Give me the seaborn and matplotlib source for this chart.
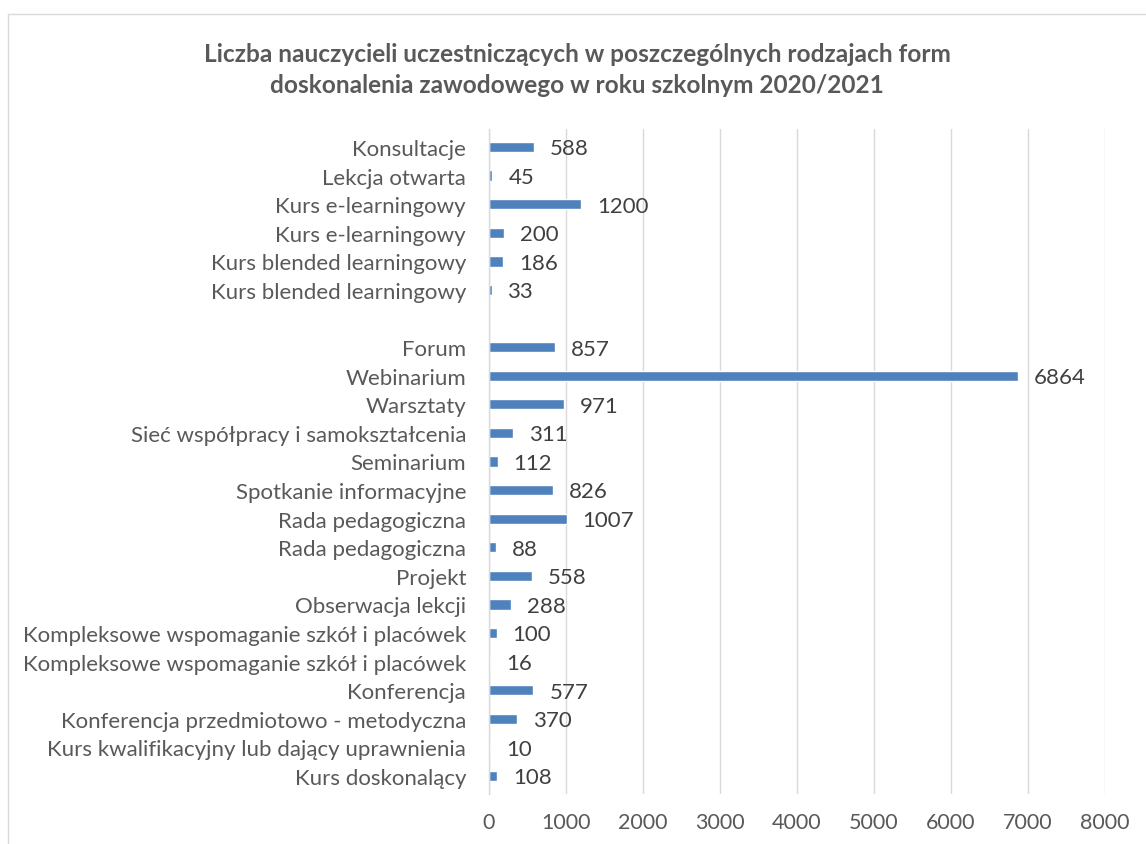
import matplotlib
matplotlib.use("Agg")
import matplotlib.pyplot as plt
import seaborn as sns
import pandas as pd
import numpy as np

categories = [
    "Konsultacje", "Lekcja otwarta", "Kurs e-learningowy", "Kurs e-learningowy",
    "Kurs blended learningowy", "Kurs blended learningowy", "",
    "Forum", "Webinarium", "Warsztaty", "Sieć współpracy i samokształcenia",
    "Seminarium", "Spotkanie informacyjne", "Rada pedagogiczna", "Rada pedagogiczna",
    "Projekt", "Obserwacja lekcji", "Kompleksowe wspomaganie szkół i placówek",
    "Kompleksowe wspomaganie szkół i placówek", "Konferencja",
    "Konferencja przedmiotowo - metodyczna", "Kurs kwalifikacyjny lub dający uprawnienia",
    "Kurs doskonalący",
]
values = [588, 45, 1200, 200, 186, 33, np.nan,
          857, 6864, 971, 311, 112, 826, 1007, 88, 558, 288, 100, 16, 577, 370, 10, 108]
x_ticks = [0, 1000, 2000, 3000, 4000, 5000, 6000, 7000, 8000]
title = "Liczba nauczycieli uczestniczących w poszczególnych rodzajach form\ndoskonalenia zawodowego w roku szkolnym 2020/2021"

sns.set_theme(style="white")
plt.rcParams['font.family'] = ['Lato', 'DejaVu Sans']

slots = [f"s{i}" for i in range(len(categories))]
df = pd.DataFrame({"slot": slots, "label": categories, "value": values})

fig = plt.figure(figsize=(11.46, 8.45), dpi=100)
ax = fig.add_axes([489/1146, 1-795/845, (1105-489)/1146, (795-130)/845])

sns.barplot(data=df.dropna(), x="value", y="slot", order=slots, orient="h",
            color="#4F81BD", saturation=1, width=0.36, ax=ax)

ax.set_xlim(0, 8000)
ax.set_ylim(len(slots) - 1 + 0.63, -0.63)
ax.set_xticks(x_ticks)
ax.set_xticklabels([str(t) for t in x_ticks], fontsize=15.5, color="#595959")
ax.set_yticks(range(len(slots)))
ax.set_yticklabels(categories, fontsize=16, color="#595959")
ax.tick_params(axis="both", length=0)
ax.tick_params(axis="x", pad=13)
ax.tick_params(axis="y", pad=16.5)
ax.set_xlabel("")
ax.set_ylabel("")
ax.grid(axis="x", color="#D9D9D9", linewidth=1)
ax.set_axisbelow(True)
for s in ["top", "right", "bottom"]:
    ax.spines[s].set_visible(False)
ax.spines["left"].set_color("#D9D9D9")
ax.spines["left"].set_linewidth(1)

for i, v in enumerate(values):
    if not np.isnan(v):
        ax.annotate(f"{int(v)}", xy=(v, i), xytext=(11.5, -1), textcoords="offset points",
                    va="center", ha="left", fontsize=16, color="#404040")

fig.text(0.5 * (1146 + 8) / 1146, 1-70/845, title, ha="center", va="center",
         fontsize=17.6, fontweight="bold", color="#595959", linespacing=1.45)

# chart border (partially visible)
fig.add_artist(plt.Line2D([8/1146, 8/1146], [0, 1-15/845], color="#D9D9D9", linewidth=1, transform=fig.transFigure))
fig.add_artist(plt.Line2D([8/1146, 1], [1-15/845, 1-15/845], color="#D9D9D9", linewidth=1, transform=fig.transFigure))

fig.savefig("out.png", dpi=100, facecolor="white")
